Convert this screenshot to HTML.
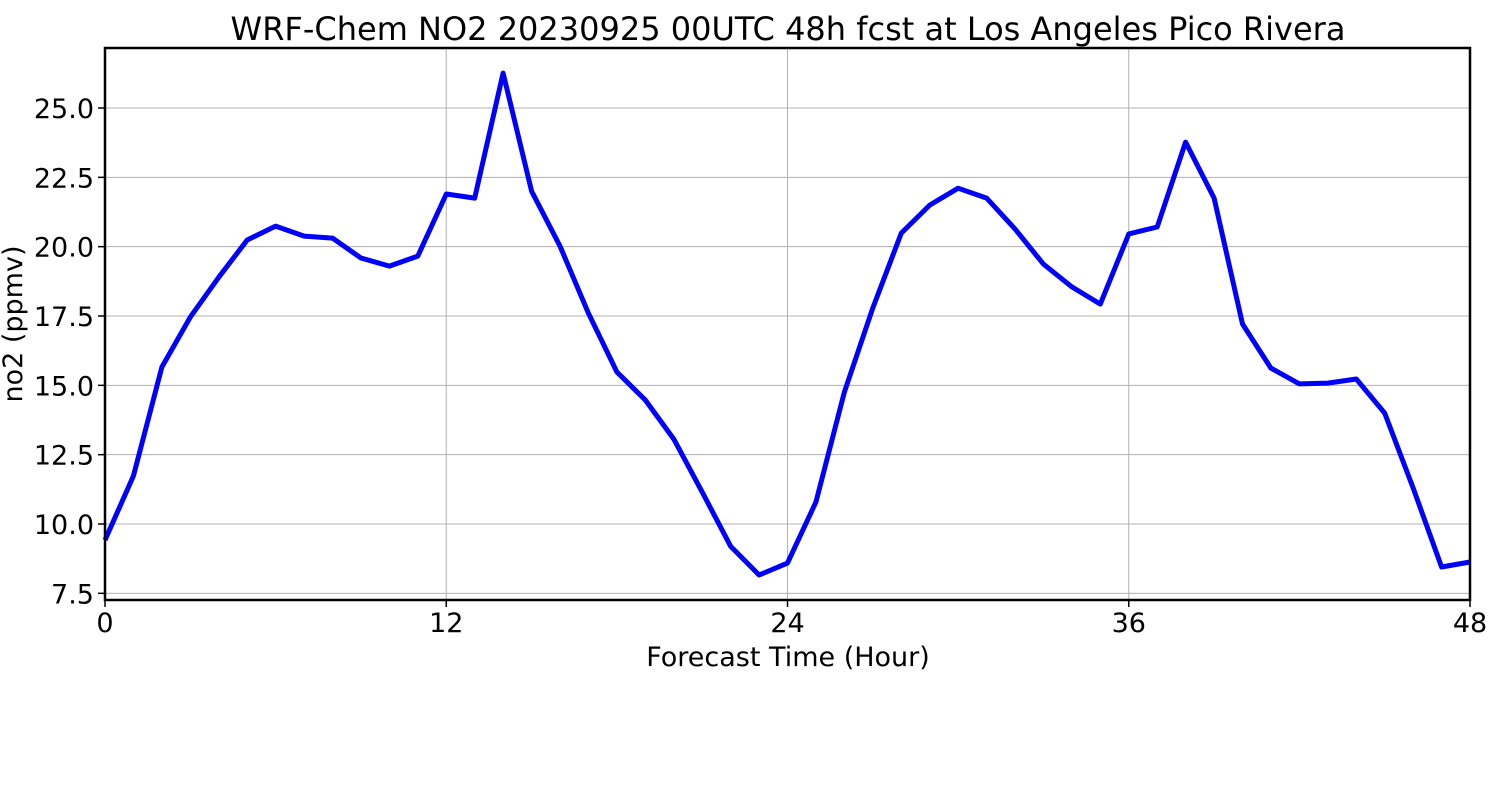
<!DOCTYPE html>
<html><head><meta charset="utf-8"><style>
html,body{margin:0;padding:0;background:#fff;}
svg{display:block;font-family:"DejaVu Sans","Liberation Sans",sans-serif;}
</style></head><body>
<svg id="chart" width="1500" height="800" viewBox="0 0 1500 800">
<rect width="1500" height="800" fill="#fff"/>
<text x="788" y="40" font-size="32" text-anchor="middle">WRF-Chem NO2  20230925 00UTC 48h fcst at Los Angeles Pico Rivera</text>
<g id="grid"></g>
<g id="xticks"></g>
<g id="yticks"></g>
<path id="series" fill="none" stroke="#0000ff" stroke-width="5" stroke-linejoin="round"/>
<rect x="105" y="48" width="1365" height="552" fill="none" stroke="#000" stroke-width="2.5"/>
<text x="788" y="666" font-size="27" text-anchor="middle">Forecast Time (Hour)</text>
<text transform="translate(22,324) rotate(-90)" font-size="27" text-anchor="middle">no2  (ppmv)</text>
</svg>
<script>
const hours = [0,1,2,3,4,5,6,7,8,9,10,11,12,13,14,15,16,17,18,19,20,21,22,23,24,25,26,27,28,29,30,31,32,33,34,35,36,37,38,39,40,41,42,43,44,45,46,47,48];
const no2 = [9.42,11.73,15.66,17.46,18.9,20.24,20.74,20.38,20.31,19.59,19.3,19.66,21.9,21.75,26.26,22.0,20.02,17.6,15.48,14.47,13.06,11.15,9.2,8.16,8.59,10.79,14.76,17.79,20.49,21.5,22.11,21.75,20.64,19.37,18.55,17.93,20.46,20.71,23.77,21.75,17.21,15.62,15.05,15.08,15.23,14.0,11.3,8.45,8.63];
const xTicks = [0,12,24,36,48];
const yTicks = [7.5,10.0,12.5,15.0,17.5,20.0,22.5,25.0];
const NS='http://www.w3.org/2000/svg';
const x = h => 105 + (h-0)/48*1365;
const y = v => 524 - (v-10)*27.733;
const grid=document.getElementById('grid'), xg=document.getElementById('xticks'), yg=document.getElementById('yticks');
function mk(tag,attrs){const e=document.createElementNS(NS,tag);for(const k in attrs)e.setAttribute(k,attrs[k]);return e;}
xTicks.forEach(t=>{
  const l=mk('line',{x1:x(t),x2:x(t),y1:48,y2:600,stroke:'#b0b0b0','stroke-width':1});
  
  
  grid.appendChild(l);
  const tk=mk('line',{x1:x(t),x2:x(t),y1:600,y2:607,stroke:'#000','stroke-width':1.5});
  
  
  xg.appendChild(tk);
  const tx=mk('text',{x:x(t),y:632,'font-size':27,'text-anchor':'middle'});
  tx.textContent=t;
  
  
  xg.appendChild(tx);
});
yTicks.forEach(t=>{
  const l=mk('line',{x1:105,x2:1470,y1:y(t),y2:y(t),stroke:'#b0b0b0','stroke-width':1});
  
  
  grid.appendChild(l);
  const tk=mk('line',{x1:98,x2:105,y1:y(t),y2:y(t),stroke:'#000','stroke-width':1.5});
  
  
  yg.appendChild(tk);
  const tx=mk('text',{x:94,y:y(t)+10,'font-size':27,'text-anchor':'end'});
  tx.textContent=t.toFixed(1);
  
  
  yg.appendChild(tx);
});
document.getElementById('series').setAttribute('d',hours.map((h,i)=>(i?'L':'M')+x(h).toFixed(1)+','+y(no2[i]).toFixed(1)).join(' '));
</script>
</body></html>
